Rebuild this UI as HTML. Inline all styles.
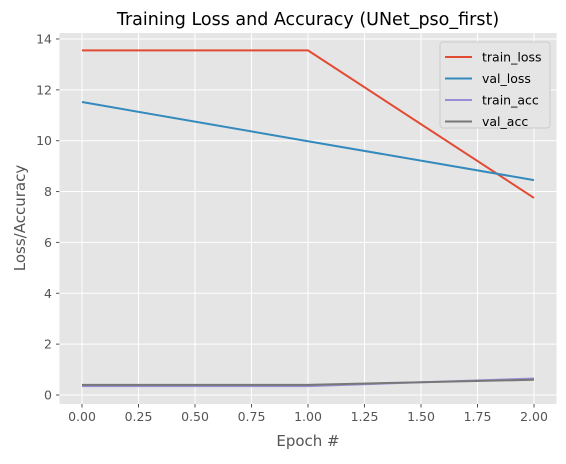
<!DOCTYPE html>
<html><head><meta charset="utf-8"><style>
body{margin:0;background:#fff;font-family:"DejaVu Sans","Liberation Sans",sans-serif}
svg text{font-family:"DejaVu Sans","Liberation Sans",sans-serif}
</style></head><body>
<svg id="chart" width="566" height="460" xmlns="http://www.w3.org/2000/svg">
<rect x="0" y="0" width="566" height="460" fill="#fff"/>
<text x="308" y="25" font-size="17.5" text-anchor="middle" fill="#000">Training Loss and Accuracy (UNet_pso_first)</text>
<rect x="59.4" y="33" width="497.2" height="371" fill="#e5e5e5"/>
<g id="grid"></g><g id="ticks"></g><g id="series"></g>
<text x="308" y="446" font-size="15" text-anchor="middle" fill="#555">Epoch #</text>
<text transform="translate(25,218) rotate(-90)" font-size="15" text-anchor="middle" fill="#555">Loss/Accuracy</text>
<g id="legend"></g>
</svg>
<script>
const epochs=[0,1,2];
const trainLoss=[13.55,13.55,7.75];
const valLoss=[11.52,9.98,8.45];
const trainAcc=[0.35,0.35,0.65];
const valAcc=[0.4,0.4,0.6];
const xTicks=[0,0.25,0.5,0.75,1,1.25,1.5,1.75,2];
const yTicks=[0,2,4,6,8,10,12,14];
const seriesNames=["train_loss","val_loss","train_acc","val_acc"];
const NS="http://www.w3.org/2000/svg";
const X=v=>82+v*226, Y=v=>395-v*25.43;
function mk(tag,attrs,parent){const e=document.createElementNS(NS,tag);for(const k in attrs)e.setAttribute(k,attrs[k]);document.getElementById(parent).appendChild(e);return e;}
xTicks.forEach(t=>{
 const g=mk('line',{x1:X(t),x2:X(t),y1:33,y2:404,stroke:'#fff','stroke-width':1},'grid');
 
 
 mk('line',{x1:X(t),x2:X(t),y1:404,y2:407.5,stroke:'#555'},'ticks');
 const tx=mk('text',{x:X(t),y:421,'font-size':12.5,'text-anchor':'middle',fill:'#555'},'ticks');
 tx.textContent=t.toFixed(2);
 
 
});
yTicks.forEach(t=>{
 const g=mk('line',{x1:59.4,x2:556.6,y1:Y(t),y2:Y(t),stroke:'#fff','stroke-width':1},'grid');
 
 
 mk('line',{x1:56,x2:59.4,y1:Y(t),y2:Y(t),stroke:'#555'},'ticks');
 const tx=mk('text',{x:52,y:Y(t)+4.5,'font-size':12.5,'text-anchor':'end',fill:'#555'},'ticks');
 tx.textContent=t;
 
 
});
const data=[trainLoss,valLoss,trainAcc,valAcc];
const colors=['#e24a33','#348abd','#988ed5','#777777'];
data.forEach((d,i)=>{
 const p=mk('polyline',{points:d.map((v,j)=>X(epochs[j])+','+Y(v)).join(' '),fill:'none',stroke:colors[i],'stroke-width':2},'series');
 
 
});
mk('rect',{x:440,y:42,width:110,height:86,fill:'#e5e5e5',stroke:'#ccc','stroke-width':1,rx:3},'legend');
seriesNames.forEach((n,i)=>{
 const y=57+i*21.5;
 mk('line',{x1:445,x2:472,y1:y,y2:y,stroke:colors[i],'stroke-width':2},'legend');
 const t=mk('text',{x:482,y:y+4.5,'font-size':12.5,fill:'#000'},'legend');
 t.textContent=n;
 
 
});
</script>
</body></html>
